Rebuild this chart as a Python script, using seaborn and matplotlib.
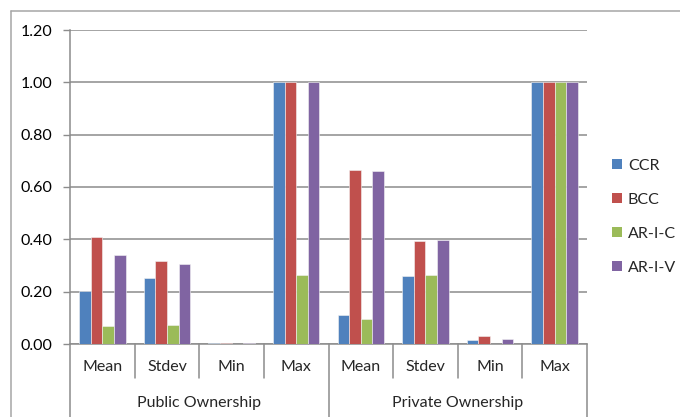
import matplotlib
matplotlib.use("Agg")
import matplotlib.pyplot as plt
import matplotlib.transforms as mtransforms
from matplotlib.patches import Patch
import pandas as pd
import seaborn as sns

# Efficiency score summary by ownership type and model
groups = ["Public Ownership", "Private Ownership"]
stats = ["Mean", "Stdev", "Min", "Max"]
models = ["CCR", "BCC", "AR-I-C", "AR-I-V"]
colors = ["#4F81BD", "#C0504D", "#9BBB59", "#8064A2"]

public_vals = {
    "CCR":    [0.203, 0.254, 0.004, 1.000],
    "BCC":    [0.408, 0.318, 0.005, 1.000],
    "AR-I-C": [0.067, 0.072, 0.000, 0.262],
    "AR-I-V": [0.341, 0.307, 0.004, 1.000],
}
private_vals = {
    "CCR":    [0.110, 0.261, 0.015, 1.000],
    "BCC":    [0.664, 0.393, 0.029, 1.000],
    "AR-I-C": [0.096, 0.265, 0.000, 1.000],
    "AR-I-V": [0.660, 0.397, 0.020, 1.000],
}
y_ticks = [0.0, 0.2, 0.4, 0.6, 0.8, 1.0, 1.2]

rows = []
for g, vals in zip(groups, [public_vals, private_vals]):
    for i, s in enumerate(stats):
        for m in models:
            rows.append({"slot": f"{g}|{s}", "group": g, "stat": s,
                         "model": m, "value": vals[m][i]})
df = pd.DataFrame(rows)
slot_order = [f"{g}|{s}" for g in groups for s in stats]

sns.set_style("white")
plt.rcParams["font.family"] = ["Lato", "DejaVu Sans"]
FS = 11.5

W, H = 680, 417
fig = plt.figure(figsize=(W / 100, H / 100), dpi=100)
ax = fig.add_axes([70 / W, 1 - 344 / H, 517 / W, 314 / H])

grid_c = "#8c8c8c"
sns.barplot(data=df, x="slot", y="value", hue="model", order=slot_order,
            hue_order=models, palette=colors, width=0.72, ax=ax,
            edgecolor="#f4f4f4", linewidth=0.4, saturation=1, legend=False,
            zorder=3)

ax.set_xlim(-0.5, len(slot_order) - 0.5)
ax.set_ylim(0, 1.2)
ax.set_yticks(y_ticks)
ax.set_yticklabels([f"{v:.2f}" for v in y_ticks], fontsize=FS, color="black")
ax.yaxis.grid(True, color=grid_c, linewidth=1.1, zorder=0)
ax.set_axisbelow(True)
ax.tick_params(axis="y", length=5, color=grid_c, width=1, pad=8, left=True)
ax.set_xticks([])
ax.set_xlabel("")
ax.set_ylabel("")
for side in ["top", "right"]:
    ax.spines[side].set_visible(False)
for side in ["left", "bottom"]:
    ax.spines[side].set_color(grid_c)
    ax.spines[side].set_linewidth(1.1)

# Two-level category axis below the plot
trans = mtransforms.blended_transform_factory(ax.transData, fig.transFigure)
y_axis = 1 - 344 / H
y_inner = 1 - 378 / H
for k in range(len(slot_order) + 1):
    x = k - 0.5
    bottom = 0.0 if k % len(stats) == 0 else y_inner
    ax.plot([x, x], [y_axis, bottom], color=grid_c, linewidth=1.1,
            transform=trans, clip_on=False)
for k, slot in enumerate(slot_order):
    ax.text(k, 1 - 367 / H, slot.split("|")[1], transform=trans,
            ha="center", va="center", fontsize=FS)
for gi, g in enumerate(groups):
    center = gi * len(stats) + (len(stats) - 1) / 2
    ax.text(center, 1 - 403 / H, g, transform=trans,
            ha="center", va="center", fontsize=FS)

# Legend
handles = [Patch(facecolor=c, edgecolor="none", label=m)
           for m, c in zip(models, colors)]
fig.legend(handles=handles, loc="center left",
           bbox_to_anchor=(612 / W, 1 - 217 / H), frameon=False,
           fontsize=FS, handlelength=0.6, handleheight=0.6,
           handletextpad=0.4, labelspacing=1.25, borderaxespad=0,
           borderpad=0)

# Chart area border
fig.add_artist(plt.Line2D([11 / W, 11 / W], [0, 1 - 11 / H],
                          color="#a6a6a6", linewidth=1.1,
                          transform=fig.transFigure))
fig.add_artist(plt.Line2D([11 / W, 1], [1 - 11 / H, 1 - 11 / H],
                          color="#a6a6a6", linewidth=1.1,
                          transform=fig.transFigure))

fig.savefig("out.png", dpi=100)
